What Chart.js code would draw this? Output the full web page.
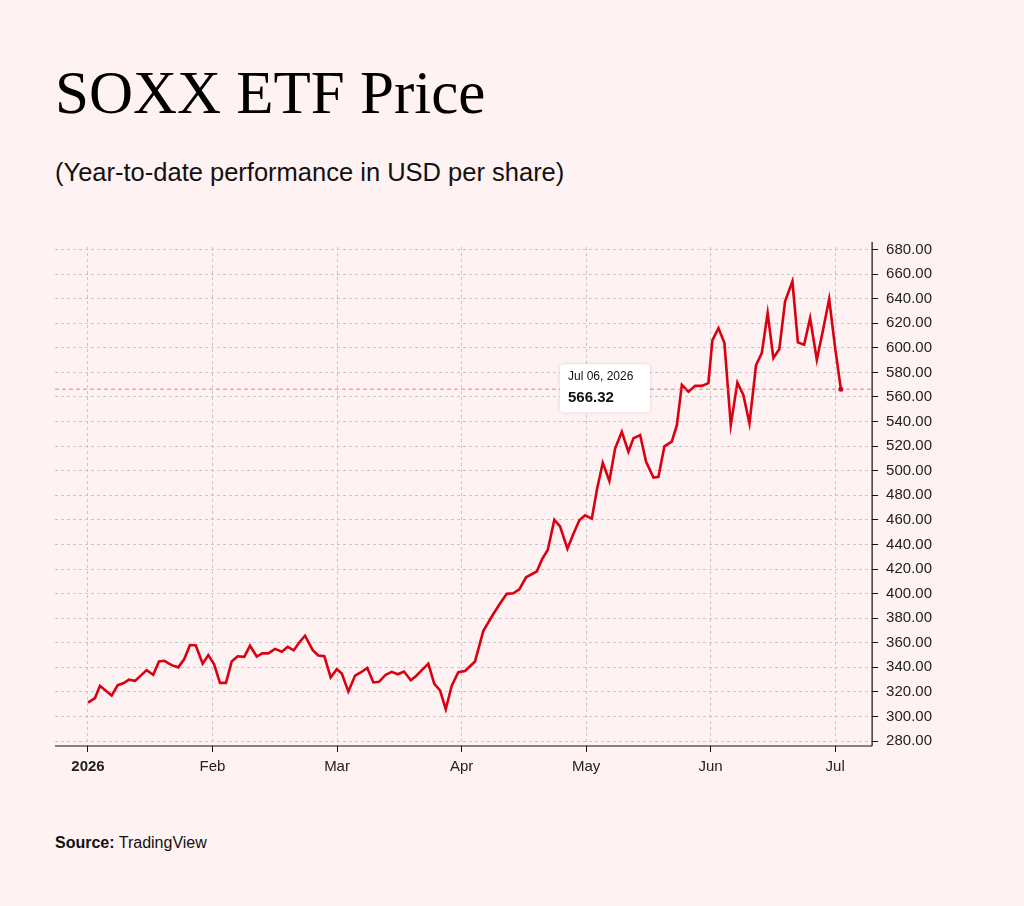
<!DOCTYPE html>
<html><head><meta charset="utf-8">
<script src="https://cdn.jsdelivr.net/npm/chart.js@4/dist/chart.umd.min.js"></script>
<style>
html,body{margin:0;padding:0;background:#fff2f2;width:1024px;height:906px;overflow:hidden;font-family:"Liberation Sans",Arial,sans-serif}
#title{position:absolute;left:55px;top:58px;font-family:"Liberation Serif","Times New Roman",serif;font-size:61px;color:#000}
#sub{position:absolute;left:55px;top:158px;font-size:25.5px;color:#111}
#src{position:absolute;left:55px;top:834px;font-size:16px;color:#111}
#wrap{position:absolute;left:0;top:230px;width:1024px;height:552px}
</style></head><body>
<div id="title">SOXX ETF Price</div>
<div id="sub">(Year-to-date performance in USD per share)</div>
<div id="src"><b>Source:</b> TradingView</div>
<div id="wrap"><canvas id="c"></canvas></div>
<script>
// time in months since Jan 1, 2026
const monthsSinceJan1=[0,.056,.096,.19,.239,.284,.329,.378,.471,.524,.57,.613,.672,.725,.773,.819,.865,.921,.966,1.012,1.06,1.108,1.154,1.202,1.255,1.301,1.355,1.4,1.448,1.502,1.556,1.604,1.652,1.695,1.743,1.805,1.85,1.898,1.949,1.998,2.038,2.091,2.145,2.193,2.243,2.292,2.337,2.391,2.439,2.488,2.538,2.592,2.635,2.683,2.733,2.781,2.827,2.873,2.921,2.974,3.028,3.108,3.175,3.255,3.309,3.363,3.416,3.464,3.518,3.604,3.647,3.692,3.745,3.791,3.85,3.896,3.946,3.992,4.046,4.088,4.134,4.187,4.233,4.287,4.34,4.38,4.434,4.482,4.541,4.581,4.629,4.688,4.729,4.769,4.822,4.876,4.929,4.982,5.014,5.063,5.111,5.162,5.215,5.263,5.312,5.365,5.411,5.458,5.504,5.552,5.598,5.657,5.701,5.751,5.799,5.853,5.904,5.952,6.0,6.046];
const prices=[311.3,315,325,317,325.5,327,330,329,337.7,334,344.8,345.3,341.8,340,346.7,358.1,358,343,350,342.7,327.4,327.4,344.8,349,348.6,357.6,348.8,351.4,351.4,355,352.7,356.7,353.8,360,365.7,354,349.7,349,331.8,338.5,335,320.4,333.3,336,339.5,327.7,328.2,334,336.3,334.4,336.6,329.5,333,338,343,326.6,321.2,305.9,325,336,337,344.8,369.8,383.4,392,399.8,400.3,403.5,413.3,418,428,435.5,460,454.7,436.5,448,459.6,463.7,461,485,506.4,491.7,518,531.7,515.4,526.3,529,507.3,494.4,495,519.8,523.6,537,569.8,564.3,569,569,571.2,606,616,603.8,537.1,571.7,561.6,538.5,586,595.7,628.3,591.6,599,637.8,654.1,604.4,602.5,624.2,590.2,615,639.7,600,566.32];
const monthLabels=["2026","Feb","Mar","Apr","May","Jun","Jul"];
const yTicks=[280,300,320,340,360,380,400,420,440,460,480,500,520,540,560,580,600,620,640,660,680];
const lastLabel="Jul 06, 2026";
const lastValue=566.32;

const pts=monthsSinceJan1.map((x,i)=>({x,y:prices[i]}));
const overlay={id:'overlay',afterDatasetsDraw(ch){
  const {ctx,chartArea:a,scales:{x,y}}=ch;
  const py=y.getPixelForValue(lastValue), px=x.getPixelForValue(monthsSinceJan1[monthsSinceJan1.length-1]);
  ctx.save();
  ctx.strokeStyle='#111';ctx.lineWidth=1.2;
  ctx.beginPath();ctx.moveTo(a.left,a.bottom);ctx.lineTo(a.right,a.bottom);ctx.moveTo(a.right,a.top-5);ctx.lineTo(a.right,a.bottom);ctx.stroke();
  ctx.strokeStyle='rgba(235,90,100,0.75)';ctx.setLineDash([4,3]);ctx.lineWidth=1;
  ctx.beginPath();ctx.moveTo(a.left,py);ctx.lineTo(a.right,py);ctx.stroke();
  ctx.setLineDash([]);
  ctx.fillStyle='#d90012';ctx.beginPath();ctx.arc(px,py,2.5,0,Math.PI*2);ctx.fill();
  const bx=560,by=py-25,bw=90,bh=48;
  ctx.shadowColor='rgba(0,0,0,0.12)';ctx.shadowBlur=4;
  ctx.fillStyle='#fff';ctx.beginPath();ctx.roundRect(bx,by,bw,bh,4);ctx.fill();
  ctx.shadowBlur=0;
  ctx.fillStyle='#111';ctx.font='12px "Liberation Sans",Arial';ctx.textBaseline='middle';
  ctx.fillText(lastLabel,bx+8,by+13);
  ctx.font='bold 15px "Liberation Sans",Arial';
  ctx.fillText(lastValue.toFixed(2),bx+8,by+34);
  ctx.restore();
}};
new Chart(document.getElementById('c'),{
  type:'line',
  data:{datasets:[{data:pts,borderColor:'#d90012',borderWidth:2.6,pointRadius:0,tension:0,fill:false}]},
  options:{responsive:true,maintainAspectRatio:false,animation:false,
    layout:{padding:{left:55,right:84,top:10,bottom:0}},
    plugins:{legend:{display:false},tooltip:{enabled:false}},
    scales:{
      x:{type:'linear',min:-0.265,max:6.297,
        afterBuildTicks(s){s.ticks=monthLabels.map((_,i)=>({value:i}));},
        ticks:{autoSkip:false,maxRotation:0,color:'#222',padding:6,
          font:(c)=>({size:15,family:'"Liberation Sans",Arial',weight:c.index===0?'bold':'normal'}),
          callback:(v)=>monthLabels[v]},
        grid:{color:'#c8c8c8',tickColor:'#111',tickLength:6,drawTicks:true},
        border:{display:false,dash:[3,3]}
      },
      y:{position:'right',min:276,max:682,
        afterBuildTicks(s){s.ticks=yTicks.map(v=>({value:v}));},
        ticks:{color:'#222',padding:8,font:{size:15,family:'"Liberation Sans",Arial'},callback:v=>v.toFixed(2)},
        grid:{color:'#c8c8c8',tickColor:'#111',tickLength:6},
        border:{display:false,dash:[3,3]}
      }
    }
  },
  plugins:[overlay]
});
</script></body></html>
